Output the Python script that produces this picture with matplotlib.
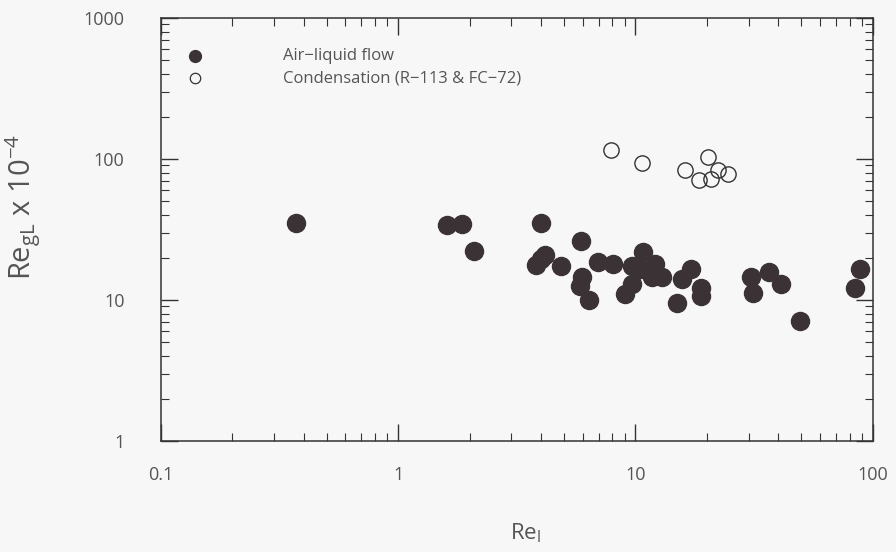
import numpy as np
import matplotlib
matplotlib.use("Agg")
import matplotlib.pyplot as plt
from matplotlib.ticker import LogLocator, FixedLocator, FixedFormatter, NullFormatter

plt.rcParams['font.family'] = ['Open Sans', 'DejaVu Sans']
plt.rcParams['mathtext.fontset'] = 'custom'
plt.rcParams['mathtext.rm'] = 'Open Sans'
plt.rcParams['mathtext.it'] = 'Open Sans'

# air-liquid flow (filled)
air_rel = [0.37, 1.61, 1.86, 2.08, 4.0, 4.15, 4.0, 3.8, 4.86, 5.89, 5.95, 5.82,
           6.35, 6.95, 8.03, 9.66, 10.5, 10.8, 12.1, 11.8, 12.9, 9.66, 9.05,
           14.96, 15.7, 17.1, 18.9, 18.9, 30.8, 31.3, 36.7, 41.2, 49.2, 88.1, 84.3]
air_regl = [35, 34.3, 34.7, 22.3, 35, 21, 19.5, 17.7, 17.4, 26.3, 14.6, 12.6,
            10.0, 18.5, 17.9, 17.3, 16.7, 21.9, 18.0, 14.6, 14.6, 12.9, 11.1,
            9.5, 14.2, 16.7, 12.2, 10.6, 14.6, 11.3, 15.8, 13.0, 7.08, 16.5, 12.2]

# condensation R-113 & FC-72 (open)
cond_rel = [7.9, 10.7, 16.2, 20.3, 18.6, 20.8, 22.2, 24.6]
cond_regl = [116, 93.6, 83.9, 103, 71, 72, 83, 77.8]

x_ticks = [0.1, 1, 10, 100]
x_labels = ['0.1', '1', '10', '100']
y_ticks = [1, 10, 100, 1000]
y_labels = ['1', '10', '100', '1000']

text_col = '#555555'
bg = '#f7f7f7'

fig = plt.figure(figsize=(8.96, 5.52), dpi=100, facecolor=bg)
ax = fig.add_axes([0.1794, 0.2011, 0.7946, 0.7663], facecolor=bg)

ax.plot(air_rel, air_regl, 'o', ms=13, color='#3b3236', mec='#3b3236', ls='none')
ax.plot(cond_rel, cond_regl, 'o', ms=11, mfc='none', mec='#333333', mew=1.0, ls='none')

ax.set_xscale('log')
ax.set_yscale('log')
ax.set_xlim(0.1, 100)
ax.set_ylim(1, 1000)

ax.xaxis.set_major_locator(FixedLocator(x_ticks))
ax.xaxis.set_major_formatter(FixedFormatter(x_labels))
ax.yaxis.set_major_locator(FixedLocator(y_ticks))
ax.yaxis.set_major_formatter(FixedFormatter(y_labels))
ax.xaxis.set_minor_locator(LogLocator(base=10, subs=np.arange(2, 10)))
ax.yaxis.set_minor_locator(LogLocator(base=10, subs=np.arange(2, 10)))
ax.xaxis.set_minor_formatter(NullFormatter())
ax.yaxis.set_minor_formatter(NullFormatter())

ax.tick_params(which='both', direction='in', top=True, right=True, color='#333333',
               labelcolor=text_col, labelsize=13)
ax.tick_params(which='major', length=12, width=1)
ax.tick_params(which='minor', length=6, width=0.8)
ax.tick_params(axis='x', which='major', pad=18)
ax.tick_params(axis='y', which='major', pad=26)
for s in ax.spines.values():
    s.set_color('#333333')
    s.set_linewidth(1.1)

ax.set_xlabel(r'Re$_\mathrm{l}$', fontsize=16, color=text_col)
ax.xaxis.set_label_coords(0.512, -0.19)
ax.set_ylabel(r'Re$_\mathrm{gL}$ x 10$^{-4}$', fontsize=21, color=text_col)
ax.yaxis.set_label_coords(-0.165, 0.553)

# legend drawn by hand like the original
ax.plot([0.14], [537], 'o', ms=8.5, color='#3b3236', ls='none')
ax.plot([0.14], [375], 'o', ms=7.5, mfc='none', mec='#333333', mew=0.9, ls='none')
ax.text(0.327, 537, 'Air\u2212liquid flow', fontsize=12, color=text_col, va='center')
ax.text(0.327, 375, 'Condensation (R\u2212113 & FC\u221272)', fontsize=12, color=text_col, va='center')

fig.savefig('out.png', dpi=100, facecolor=bg)
